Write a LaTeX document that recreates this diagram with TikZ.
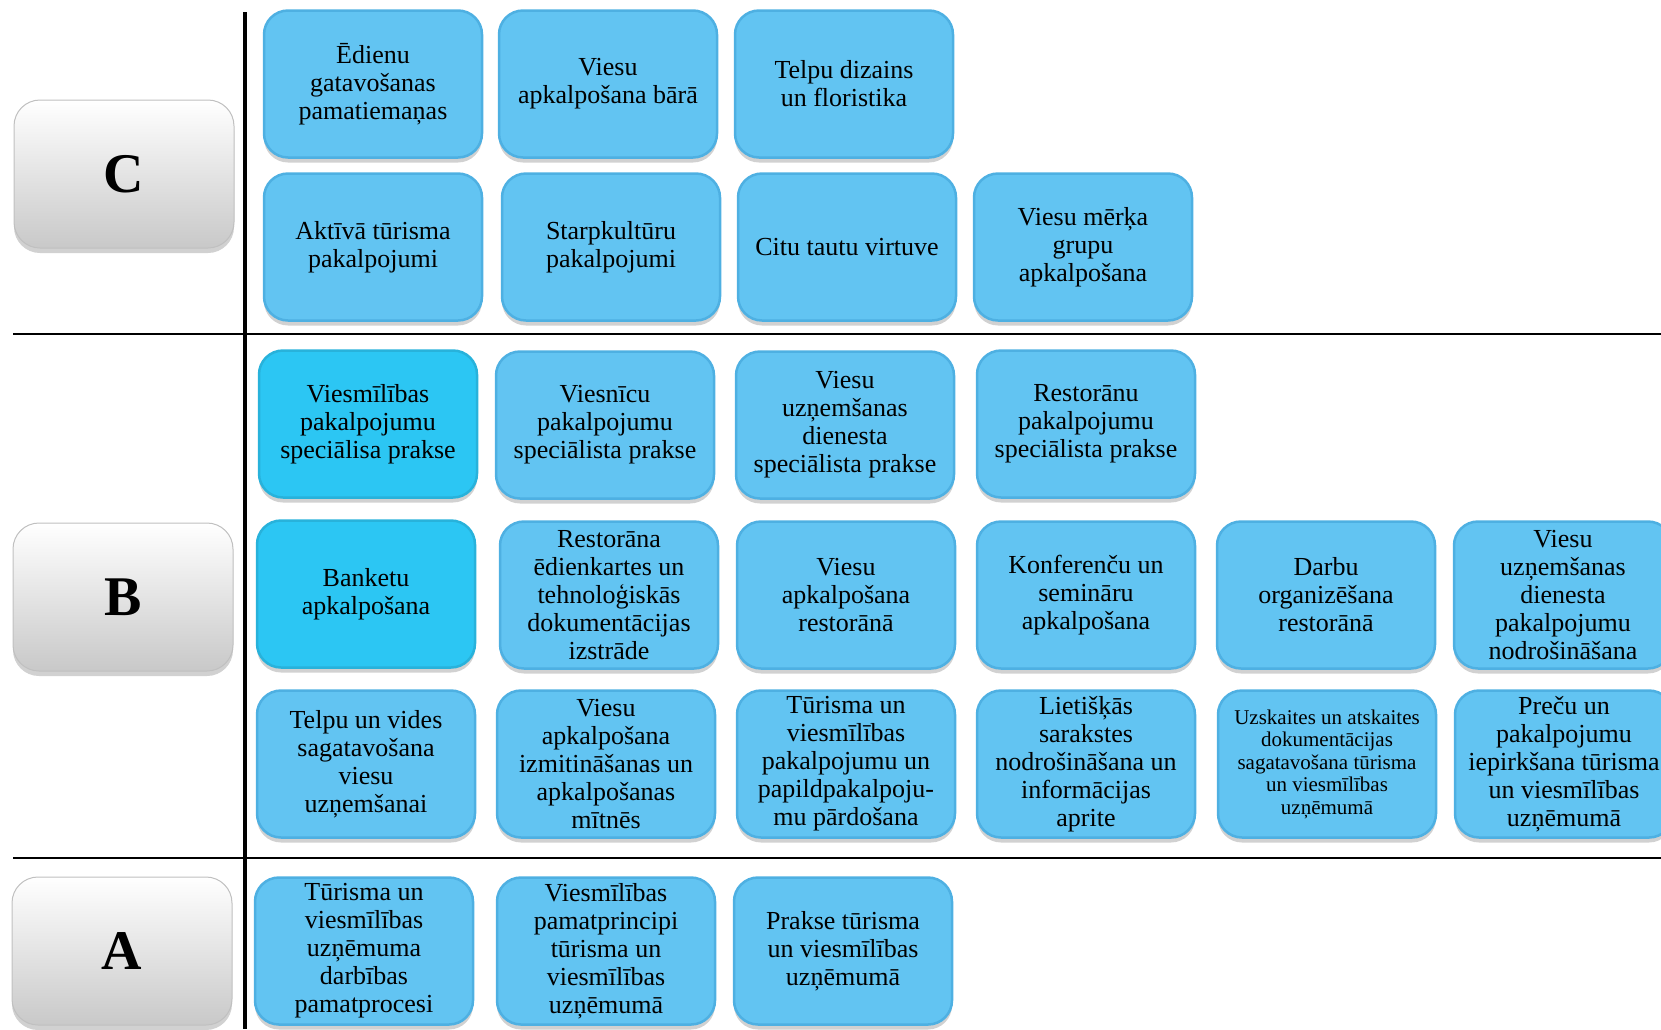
\documentclass[tikz,border=0pt]{standalone}
\usepackage{fontspec}
\setmainfont{Liberation Serif}
\usetikzlibrary{shadows}
\definecolor{topicblue}{RGB}{98,196,242}
\definecolor{topicedge}{RGB}{78,176,226}
\definecolor{keyblue}{RGB}{44,198,243}
\definecolor{levelgray}{RGB}{218,218,218}
\tikzset{
  topic/.style={rounded corners=24pt, minimum width=218pt, minimum height=147pt,
    inner sep=2pt, align=center, fill=topicblue, draw=topicedge, line width=2.5pt,
    drop shadow={shadow xshift=0pt, shadow yshift=-5pt, opacity=0.3, fill=black!60},
    font=\fontsize{26}{28}\selectfont},
  keytopic/.style={topic, fill=keyblue, draw=keyblue!90!black},
  smalltopic/.style={topic, font=\fontsize{21}{22.5}\selectfont},
  level/.style={rounded corners=26pt, minimum width=220pt, minimum height=148pt,
    top color=white, middle color=levelgray, bottom color=levelgray!92!black,
    draw=levelgray!88!black, line width=1pt,
    drop shadow={shadow xshift=0pt, shadow yshift=-5pt, opacity=0.3, fill=black!60},
    font=\bfseries\fontsize{56}{60}\selectfont}
}

\begin{document}
\begin{tikzpicture}[x=1pt, y=-1pt]
        \useasboundingbox (0,0) rectangle (1661,1029);
        \clip (0,0) rectangle (1661,1029);
        % separators
        \draw[line width=4pt] (245,12) -- (245,1029);
        \draw[line width=2.5pt] (13,334) -- (1661,334);
        \draw[line width=2.5pt] (13,858) -- (1661,858);
        % levels
        \node[level] (lvlC) at (124,174) {C};
        \node[level] (lvlB) at (123,597) {B};
        \node[level] (lvlA) at (122,951) {A};
        % level C
        \node[topic] (c1) at (373,84) {Ēdienu\\gatavošanas\\pamatiemaņas};
        \node[topic] (c2) at (608,84) {Viesu\\apkalpošana bārā};
        \node[topic] (c3) at (844,84) {Telpu dizains\\un floristika};
        \node[topic] (c4) at (373,247) {Aktīvā tūrisma\\pakalpojumi};
        \node[topic] (c5) at (611,247) {Starpkultūru\\pakalpojumi};
        \node[topic] (c6) at (847,247) {Citu tautu virtuve};
        \node[topic] (c7) at (1083,247) {Viesu mērķa\\grupu\\apkalpošana};
        % level B
        \node[keytopic] (b1) at (368,424) {Viesmīlības\\pakalpojumu\\speciālisa prakse};
        \node[topic] (b2) at (605,425) {Viesnīcu\\pakalpojumu\\speciālista prakse};
        \node[topic] (b3) at (845,425) {Viesu\\uzņemšanas\\dienesta\\speciālista prakse};
        \node[topic] (b4) at (1086,424) {Restorānu\\pakalpojumu\\speciālista prakse};
        \node[keytopic] (b5) at (366,594) {Banketu\\apkalpošana};
        \node[topic] (b6) at (609,595) {Restorāna\\ēdienkartes un\\tehnoloģiskās\\dokumentācijas\\izstrāde};
        \node[topic] (b7) at (846,595) {Viesu\\apkalpošana\\restorānā};
        \node[topic] (b8) at (1086,595) {Konferenču un\\semināru\\apkalpošana};
        \node[topic] (b9) at (1326,595) {Darbu\\organizēšana\\restorānā};
        \node[topic] (b10) at (1563,595) {Viesu\\uzņemšanas\\dienesta\\pakalpojumu\\nodrošināšana};
        \node[topic] (b11) at (366,764) {Telpu un vides\\sagatavošana\\viesu\\uzņemšanai};
        \node[topic] (b12) at (606,764) {Viesu\\apkalpošana\\izmitināšanas un\\apkalpošanas\\mītnēs};
        \node[topic] (b13) at (846,764) {Tūrisma un\\viesmīlības\\pakalpojumu un\\papildpakalpoju-\\mu pārdošana};
        \node[topic] (b14) at (1086,764) {Lietišķās\\sarakstes\\nodrošināšana un\\informācijas\\aprite};
        \node[smalltopic] (b15) at (1327,764) {Uzskaites un atskaites\\dokumentācijas\\sagatavošana tūrisma\\un viesmīlības\\uzņēmumā};
        \node[topic] (b16) at (1564,764) {Preču un\\pakalpojumu\\iepirkšana tūrisma\\un viesmīlības\\uzņēmumā};
        % level A
        \node[topic] (a1) at (364,951) {Tūrisma un\\viesmīlības\\uzņēmuma\\darbības\\pamatprocesi};
        \node[topic] (a2) at (606,951) {Viesmīlības\\pamatprincipi\\tūrisma un\\viesmīlības\\uzņēmumā};
        \node[topic] (a3) at (843,951) {Prakse tūrisma\\un viesmīlības\\uzņēmumā};
\end{tikzpicture}
\end{document}
